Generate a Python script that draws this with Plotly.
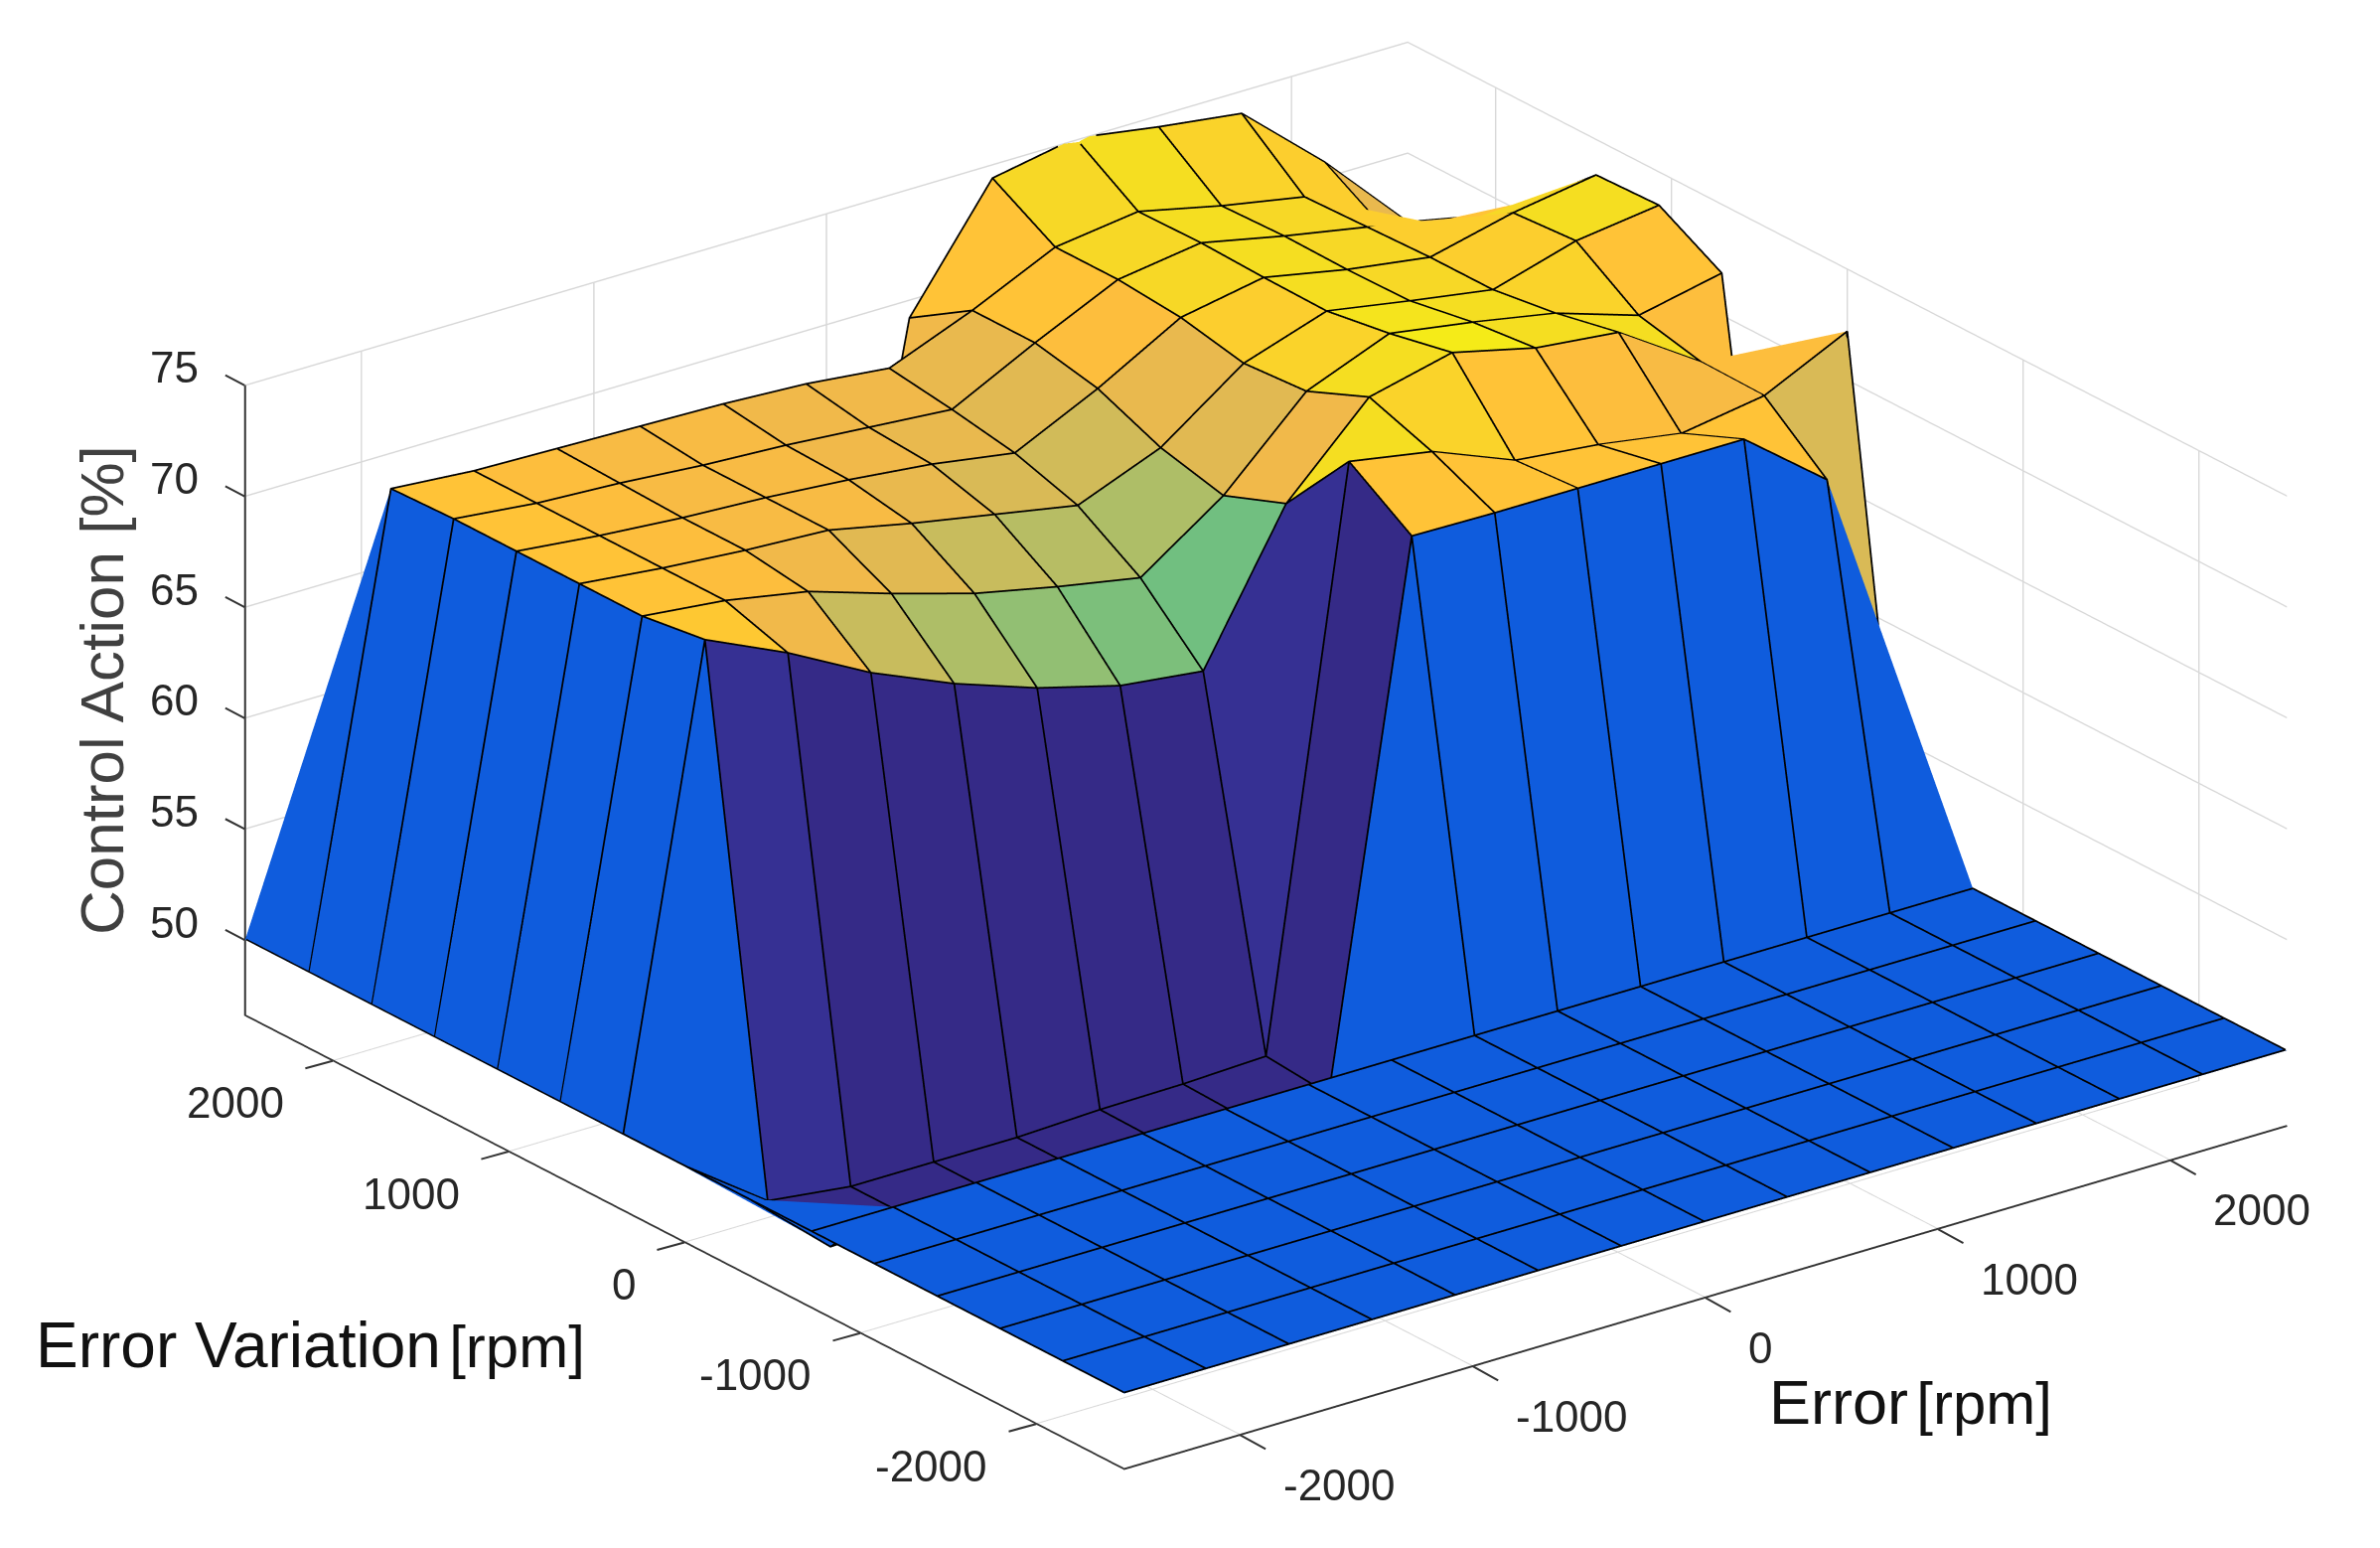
import plotly.graph_objects as go

error_nodes = [-2500, -2143, -1786, -1429, -1071, -714, -357, 0, 357, 714, 1071, 1429, 1786, 2143, 2500]
variation_nodes = [-2500, -2143, -1786, -1429, -1071, -714, -357, 0, 357, 714, 1071, 1429, 1786, 2143, 2500]

row_00 = [50.0] * 15
row_01 = [50.0] * 15
row_02 = [50.0] * 15
row_03 = [50.0] * 15
row_04 = [50.0] * 15
row_05 = [50.0] * 15
row_06 = [50, 46.75, 46.9, 46.9, 46.9, 47, 47, 47, 71.06, 71, 71, 71, 71, 68.07, 46.8]
row_07 = [50, 47.36, 46.9, 46.9, 46.9, 47.05, 47.1, 47.25, 72.96, 72.3, 70.8, 70.4, 69.8, 70.4, 72.2]
row_08 = [50, 71.2, 69.5, 67.5, 65.9, 64.6, 63.6, 63.15, 69.6, 73.3, 74.2, 73.3, 72.9, 70.45, 50]
row_09 = [50, 70.8, 70.4, 69.7, 68.5, 67.4, 66.6, 65.9, 68.5, 72.1, 73.6, 73.0, 72.3, 71.1, 71.9]
row_10 = [50, 70.8, 70.4, 70.1, 69.9, 69.1, 68.4, 67.7, 69.2, 71.9, 73.15, 72.5, 71.9, 73.0, 73.5]
row_11 = [50, 70.8, 70.4, 70.1, 69.9, 69.6, 69.2, 68.6, 70.4, 72.5, 73.2, 72.45, 71.9, 72.8, 73.4]
row_12 = [50, 70.8, 70.4, 70.2, 69.9, 69.7, 69.4, 69.1, 71.0, 72.75, 73.3, 72.5, 71.8, 70.7, 70.8]
row_13 = [50, 70.7, 70.4, 70.3, 70.2, 70.1, 69.9, 69.5, 71.0, 72.75, 73.25, 72.4, 71.7, 69, 68.6]
row_14 = [50, 50, 50, 50, 50, 50, 50, 50, 69.2, 74.4, 75.1, 74.5, 74.0, 70.7, 66.9]
control_action = [row_00, row_01, row_02, row_03, row_04, row_05, row_06, row_07,
                  row_08, row_09, row_10, row_11, row_12, row_13, row_14]

tick_values = [-2000, -1000, 0, 1000, 2000]
z_ticks = [50, 55, 60, 65, 70, 75]

parula = [
 (.2081,.1663,.5292),(.2116,.1898,.5777),(.2123,.2138,.6270),(.2081,.2386,.6771),(.1959,.2645,.7279),(.1707,.2919,.7792),
 (.1253,.3242,.8303),(.0591,.3598,.8683),(.0117,.3875,.8820),(.0060,.4086,.8828),(.0165,.4266,.8786),(.0329,.4430,.8720),
 (.0498,.4586,.8641),(.0629,.4737,.8554),(.0723,.4887,.8467),(.0779,.5040,.8384),(.0793,.5200,.8312),(.0749,.5375,.8263),
 (.0641,.5570,.8240),(.0488,.5772,.8228),(.0343,.5966,.8199),(.0265,.6137,.8135),(.0239,.6287,.8038),(.0231,.6418,.7913),
 (.0228,.6535,.7768),(.0267,.6642,.7607),(.0384,.6743,.7436),(.0590,.6838,.7254),(.0843,.6928,.7062),(.1133,.7015,.6859),
 (.1453,.7098,.6646),(.1801,.7177,.6424),(.2178,.7250,.6193),(.2586,.7317,.5954),(.3022,.7376,.5712),(.3482,.7424,.5473),
 (.3953,.7459,.5244),(.4420,.7481,.5033),(.4871,.7491,.4840),(.5300,.7491,.4661),(.5709,.7485,.4494),(.6099,.7473,.4337),
 (.6473,.7456,.4188),(.6834,.7435,.4044),(.7184,.7411,.3905),(.7525,.7384,.3768),(.7858,.7356,.3633),(.8185,.7327,.3498),
 (.8507,.7299,.3360),(.8824,.7274,.3217),(.9139,.7258,.3063),(.9450,.7261,.2886),(.9739,.7314,.2666),(.9938,.7455,.2403),
 (.9990,.7653,.2164),(.9955,.7861,.1967),(.9880,.8066,.1794),(.9789,.8271,.1633),(.9697,.8481,.1475),(.9626,.8705,.1309),
 (.9589,.8949,.1132),(.9598,.9218,.0948),(.9661,.9514,.0755),(.9763,.9831,.0538)]

n = len(error_nodes)
zlo = min(min(r) for r in control_action)
zhi = max(max(r) for r in control_action)


def face_colour(v):
    k = min(63, int((v - zlo) / (zhi - zlo) * 64))
    r, g, b = parula[k]
    return f"rgb({round(r*255)},{round(g*255)},{round(b*255)})"


vx, vy, vz = [], [], []
for j in range(n):
    for i in range(n):
        vx.append(error_nodes[i])
        vy.append(variation_nodes[j])
        vz.append(control_action[j][i])

# (j, i) of the one face that is folded along its other diagonal
other_fold = {(13, 13)}

ti, tj, tk, fc = [], [], [], []
for j in range(n - 1):
    for i in range(n - 1):
        a = j * n + i
        b = a + 1
        c = a + n
        d = c + 1
        col = face_colour(control_action[j][i])
        if (j, i) in other_fold:
            ti += [a, a]
            tj += [b, d]
            tk += [d, c]
        else:
            ti += [a, b]
            tj += [b, d]
            tk += [c, c]
        fc += [col, col]

fig = go.Figure()
fig.add_trace(go.Mesh3d(
    x=vx, y=vy, z=vz, i=ti, j=tj, k=tk, facecolor=fc, flatshading=True,
    lighting=dict(ambient=1, diffuse=0, specular=0, fresnel=0, roughness=1),
    hoverinfo="skip", showscale=False))

# the mesh lines are lifted a hair toward the viewer so that they do not fight with the faces
lift_x, lift_y, lift_z = -5.7, -7.5, 0.048


def lifted(xv, yv, zv):
    return max(xv + lift_x, error_nodes[0]), max(yv + lift_y, variation_nodes[0]), zv + lift_z


lx, ly, lz = [], [], []
for j in range(n):
    for i in range(n):
        p = lifted(error_nodes[i], variation_nodes[j], control_action[j][i])
        lx.append(p[0]); ly.append(p[1]); lz.append(p[2])
    lx.append(None); ly.append(None); lz.append(None)
for i in range(n):
    for j in range(n):
        p = lifted(error_nodes[i], variation_nodes[j], control_action[j][i])
        lx.append(p[0]); ly.append(p[1]); lz.append(p[2])
    lx.append(None); ly.append(None); lz.append(None)
fig.add_trace(go.Scatter3d(x=lx, y=ly, z=lz, mode="lines",
                           line=dict(color="black", width=3.5), hoverinfo="skip", showlegend=False))

axis = dict(showbackground=False, showgrid=True, gridcolor="#d8d8d8", gridwidth=3,
            zeroline=False, showline=True, linecolor="#333333", linewidth=4,
            ticks="", showspikes=False, title=dict(text=""), showticklabels=False)

tick_font = dict(family="Liberation Sans", size=44, color="#262626")
floor = 46.6
scene_notes = []


def tick_mark(px, py, pz, ax, ay):
    scene_notes.append(dict(x=px, y=py, z=pz, text=" ", showarrow=True, arrowhead=0, arrowwidth=2,
                            arrowcolor="#333333", ax=ax, ay=ay, standoff=0, font=dict(size=1)))


for v in tick_values:
    tick_mark(v, -2500, floor, 27, 15)
    tick_mark(-2500, v, floor, -29, 8)
    scene_notes.append(dict(x=v, y=-2500, z=floor, text=str(v), showarrow=False, font=tick_font,
                            xanchor="left", yanchor="middle", xshift=41, yshift=-50))
    scene_notes.append(dict(x=-2500, y=v, z=floor, text=str(v), showarrow=False, font=tick_font,
                            xanchor="right", yanchor="middle", xshift=-47, yshift=-42))
for v in z_ticks:
    tick_mark(-2500, 2500, v, -21, -11)
    scene_notes.append(dict(x=-2500, y=2500, z=v, text=str(v), showarrow=False, font=tick_font,
                            xanchor="right", yanchor="middle", xshift=-44, yshift=18))

fig.update_layout(
    width=2396, height=1558, margin=dict(l=0, r=0, t=0, b=0),
    paper_bgcolor="white", showlegend=False,
    scene=dict(
        domain=dict(x=[0.0570, 1], y=[0.0338, 1]),
        xaxis=dict(axis, range=[-2500, 2500], tickvals=tick_values),
        yaxis=dict(axis, range=[-2500, 2500], tickvals=tick_values),
        zaxis=dict(axis, range=[floor, 75], tickvals=z_ticks),
        aspectmode="manual", aspectratio=dict(x=1.95, y=1.95, z=0.915),
        camera=dict(projection=dict(type="orthographic"),
                    up=dict(x=0, y=0, z=1), center=dict(x=0, y=0, z=0),
                    eye=dict(x=-0.555 * 3, y=-0.734 * 3, z=0.39 * 3)),
        annotations=scene_notes,
    ),
)


def label(text, px, py, size, colour, angle=0):
    fig.add_annotation(text=text, x=px / 2396, y=1 - py / 1558, xref="paper", yref="paper",
                       showarrow=False, xanchor="center", yanchor="middle", textangle=angle,
                       font=dict(family="Liberation Sans", size=size, color=colour))


rpm = "<span style='font-size:30px'> </span><span style='font-size:60px'>[rpm]</span>"
label("Error Variation" + rpm, 304, 1346, 64, "#111111")
label("Error" + rpm, 1915, 1403, 63, "#111111")
label("Control Action [%]", 94, 687, 62, "#404040", -90)

fig.write_html("out.html")
